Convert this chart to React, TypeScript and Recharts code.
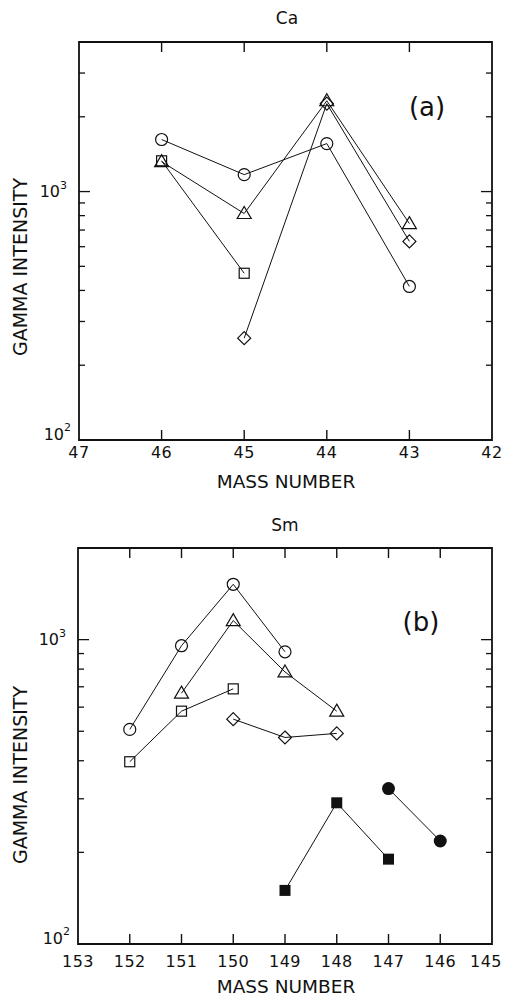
import React from 'react';
import { LineChart, Line, XAxis, YAxis, ReferenceArea } from 'recharts';

// Ca panel (a)
const caMass = [46, 45, 44, 43];
const caCircle = [1620, 1170, 1560, 415];
const caTriangle = [1320, 816, 2320, 743];
const caSquare = [1330, 469, null, null];
const caDiamond = [null, 257, 2260, 630];
const caXTicks = [47, 46, 45, 44, 43, 42];
const caYTicks = [100, 200, 300, 400, 500, 600, 700, 800, 900, 1000, 2000, 3000];

// Sm panel (b)
const smMass = [152, 151, 150, 149, 148, 147, 146];
const smCircle = [507, 955, 1520, 912, null, null, null];
const smTriangle = [null, 667, 1155, 783, 582, null, null];
const smSquare = [397, 582, 689, null, null, null, null];
const smDiamond = [null, null, 548, 477, 492, null, null];
const smFilledSquare = [null, null, null, 150, 291, 190, null];
const smFilledCircle = [null, null, null, null, null, 324, 218];
const smXTicks = [153, 152, 151, 150, 149, 148, 147, 146, 145];
const smYTicks = [100, 200, 300, 400, 500, 600, 700, 800, 900, 1000];

type Kind = 'circle' | 'triangle' | 'square' | 'diamond' | 'fsquare' | 'fcircle';

const FONT = '"DejaVu Sans", sans-serif';
const INK = '#111';

const caRows = caMass.map((m, i) => ({
  m,
  circle: caCircle[i],
  triangle: caTriangle[i],
  square: caSquare[i],
  diamond: caDiamond[i],
}));

const smRows = smMass.map((m, i) => ({
  m,
  circle: smCircle[i],
  triangle: smTriangle[i],
  square: smSquare[i],
  diamond: smDiamond[i],
  fsquare: smFilledSquare[i],
  fcircle: smFilledCircle[i],
}));

const renderMarker = (kind: Kind) => (p: any) => {
  const { cx, cy, index } = p;
  const key = `${kind}-${index}`;
  if (cx == null || cy == null || p.value == null) return <g key={key} />;
  const st = { fill: 'none', stroke: INK, strokeWidth: 1.2 };
  switch (kind) {
    case 'circle':
      return <circle key={key} cx={cx} cy={cy} r={6} {...st} />;
    case 'triangle':
      return (
        <polygon
          key={key}
          points={`${cx},${cy - 7} ${cx + 7},${cy + 5} ${cx - 7},${cy + 5}`}
          {...st}
        />
      );
    case 'square':
      return <rect key={key} x={cx - 5} y={cy - 5} width={10} height={10} {...st} />;
    case 'diamond':
      return (
        <polygon
          key={key}
          points={`${cx},${cy - 6.5} ${cx + 6.5},${cy} ${cx},${cy + 6.5} ${cx - 6.5},${cy}`}
          {...st}
        />
      );
    case 'fsquare':
      return <rect key={key} x={cx - 5.5} y={cy - 5.5} width={11} height={11} fill={INK} />;
    default:
      return <circle key={key} cx={cx} cy={cy} r={6.5} fill={INK} />;
  }
};

// inward tick marks on bottom and top edges, label below
const makeXTick = (top: number, edges: number[], labelDy: number, lastShift: number) => (props: any) => {
  const { x, y, payload } = props;
  const inner = !edges.includes(payload.value);
  const isLast = payload.value === edges[0];
  return (
    <g>
      {inner && <line x1={x} x2={x} y1={y} y2={y - 10} stroke={INK} strokeWidth={1.4} />}
      {inner && <line x1={x} x2={x} y1={top} y2={top + 10} stroke={INK} strokeWidth={1.4} />}
      <text
        x={x + (isLast ? lastShift : 0)}
        y={y + labelDy}
        textAnchor="middle"
        dominantBaseline="central"
        fontFamily={FONT}
        fontSize={16}
        letterSpacing={0.5}
        fill={INK}
      >
        {payload.value}
      </text>
    </g>
  );
};

// inward tick marks on left and right edges, 10^n labels at decades
const makeYTick = (right: number) => (props: any) => {
  const { x, y, payload } = props;
  const v = payload.value as number;
  const exp = Math.round(Math.log10(v));
  const major = Math.abs(Math.pow(10, exp) - v) < 1e-6;
  const len = major ? 11 : 6;
  const bottom = v === 100;
  return (
    <g>
      {!bottom && <line x1={x} x2={x + len} y1={y} y2={y} stroke={INK} strokeWidth={1.3} />}
      {!bottom && <line x1={right} x2={right - len} y1={y} y2={y} stroke={INK} strokeWidth={1.3} />}
      {major && (
        <text
          x={x - (bottom ? 8 : 12)}
          y={y - (bottom ? 6 : 0)}
          textAnchor="end"
          dominantBaseline="central"
          fontFamily={FONT}
          fontSize={16}
          fill={INK}
        >
          10
          <tspan dy={-7} fontSize={11}>
            {exp}
          </tspan>
        </text>
      )}
    </g>
  );
};

const Label = ({ x, y, size, text, rotate }: { x: number; y: number; size: number; text: string; rotate?: boolean }) => (
  <div
    style={{
      position: 'absolute',
      left: x,
      top: y,
      transform: `translate(-50%, -50%)${rotate ? ' rotate(-90deg)' : ''}`,
      fontFamily: FONT,
      fontSize: size,
      lineHeight: 1,
      whiteSpace: 'nowrap',
      color: INK,
    }}
  >
    {text}
  </div>
);

const lineProps = {
  type: 'linear' as const,
  stroke: INK,
  strokeWidth: 1,
  isAnimationActive: false,
  activeDot: false,
  connectNulls: false,
};

const CaChart = () => (
  <LineChart width={505} height={500} data={caRows} margin={{ top: 42, right: 13, bottom: 0, left: 0 }}>
    <ReferenceArea x1={42} x2={47} y1={100} y2={4000} fill="none" stroke={INK} strokeWidth={1.8} ifOverflow="visible" />
    <XAxis
      dataKey="m"
      type="number"
      domain={[42, 47]}
      reversed
      ticks={caXTicks}
      interval={0}
      height={60}
      tickSize={0}
      tickMargin={0}
      axisLine={false}
      tickLine={false}
      tick={makeXTick(42, [42, 47], 12, 0)}
    />
    <YAxis
      type="number"
      scale="log"
      domain={[100, 4000]}
      allowDataOverflow
      ticks={caYTicks}
      interval={0}
      width={79}
      tickSize={0}
      tickMargin={0}
      axisLine={false}
      tickLine={false}
      tick={makeYTick(492)}
    />
    <Line dataKey="circle" {...lineProps} dot={renderMarker('circle')} />
    <Line dataKey="triangle" {...lineProps} dot={renderMarker('triangle')} />
    <Line dataKey="square" {...lineProps} dot={renderMarker('square')} />
    <Line dataKey="diamond" {...lineProps} dot={renderMarker('diamond')} />
  </LineChart>
);

const SmChart = () => (
  <LineChart width={505} height={496} data={smRows} margin={{ top: 48, right: 13, bottom: 0, left: 0 }}>
    <ReferenceArea x1={145} x2={153} y1={100} y2={2000} fill="none" stroke={INK} strokeWidth={1.8} ifOverflow="visible" />
    <XAxis
      dataKey="m"
      type="number"
      domain={[145, 153]}
      reversed
      ticks={smXTicks}
      interval={0}
      height={52}
      tickSize={0}
      tickMargin={0}
      axisLine={false}
      tickLine={false}
      tick={makeXTick(48, [145, 153], 17, -6)}
    />
    <YAxis
      type="number"
      scale="log"
      domain={[100, 2000]}
      allowDataOverflow
      ticks={smYTicks}
      interval={0}
      width={78}
      tickSize={0}
      tickMargin={0}
      axisLine={false}
      tickLine={false}
      tick={makeYTick(492)}
    />
    <Line dataKey="circle" {...lineProps} dot={renderMarker('circle')} />
    <Line dataKey="triangle" {...lineProps} dot={renderMarker('triangle')} />
    <Line dataKey="square" {...lineProps} dot={renderMarker('square')} />
    <Line dataKey="diamond" {...lineProps} dot={renderMarker('diamond')} />
    <Line dataKey="fsquare" {...lineProps} dot={renderMarker('fsquare')} />
    <Line dataKey="fcircle" {...lineProps} dot={renderMarker('fcircle')} />
  </LineChart>
);

export default function App() {
  return (
    <div style={{ position: 'absolute', left: 0, top: 0, width: 505, height: 996, background: '#fff' }}>
      <div style={{ position: 'absolute', left: 0, top: 0 }}>
        <CaChart />
      </div>
      <div style={{ position: 'absolute', left: 0, top: 500 }}>
        <SmChart />
      </div>
      <Label x={287} y={18} size={17} text="Ca" />
      <Label x={427} y={107} size={26} text="(a)" />
      <Label x={286} y={482} size={18.5} text="MASS NUMBER" />
      <Label x={20} y={267} size={19} text="GAMMA INTENSITY" rotate />
      <Label x={285} y={525} size={17} text="Sm" />
      <Label x={421} y={622} size={26} text="(b)" />
      <Label x={286} y={987} size={18.5} text="MASS NUMBER" />
      <Label x={20} y={775} size={19} text="GAMMA INTENSITY" rotate />
    </div>
  );
}
